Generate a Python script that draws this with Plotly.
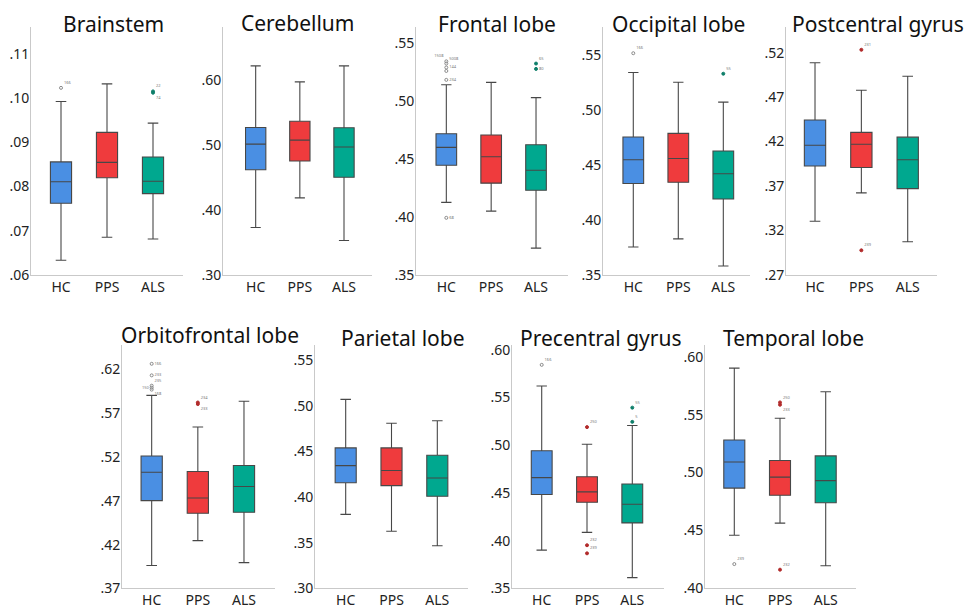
import plotly.graph_objects as go

# ---------------- data ----------------
regions = ["Brainstem", "Cerebellum", "Frontal lobe", "Occipital lobe", "Postcentral gyrus",
           "Orbitofrontal lobe", "Parietal lobe", "Precentral gyrus", "Temporal lobe"]
groups = ["HC", "PPS", "ALS"]

hc_lower = [0.0633, 0.373, 0.4126, 0.3753, 0.3302, 0.3962, 0.381, 0.3901, 0.4459]
hc_q1 = [0.0762, 0.4621, 0.4447, 0.4332, 0.3925, 0.4703, 0.4156, 0.4484, 0.4866]
hc_median = [0.0811, 0.5018, 0.4601, 0.4549, 0.4158, 0.5027, 0.4344, 0.466, 0.5092]
hc_q3 = [0.0856, 0.5275, 0.4719, 0.4757, 0.4442, 0.5212, 0.4538, 0.4942, 0.5281]
hc_upper = [0.0993, 0.6227, 0.5143, 0.5345, 0.5087, 0.5905, 0.5069, 0.562, 0.5902]

pps_lower = [0.0685, 0.4188, 0.405, 0.3827, 0.3622, 0.4246, 0.3626, 0.4087, 0.4564]
pps_q1 = [0.0820, 0.4757, 0.4292, 0.4344, 0.3907, 0.4559, 0.4125, 0.4403, 0.4804]
pps_median = [0.0855, 0.5079, 0.452, 0.4561, 0.4169, 0.4733, 0.4291, 0.4511, 0.4961]
pps_q3 = [0.0923, 0.5371, 0.4708, 0.479, 0.4303, 0.5035, 0.4538, 0.467, 0.5105]
pps_upper = [0.1033, 0.598, 0.5163, 0.5256, 0.4777, 0.5544, 0.4807, 0.501, 0.5469]

als_lower = [0.0681, 0.3529, 0.373, 0.3579, 0.3072, 0.3995, 0.3467, 0.3613, 0.4196]
als_q1 = [0.0784, 0.4505, 0.423, 0.4191, 0.367, 0.457, 0.4008, 0.4186, 0.474]
als_median = [0.0812, 0.4973, 0.4404, 0.4421, 0.3994, 0.4865, 0.4209, 0.4382, 0.4931]
als_q3 = [0.0867, 0.527, 0.4624, 0.4629, 0.4249, 0.5105, 0.4457, 0.4593, 0.5144]
als_upper = [0.0944, 0.6227, 0.5031, 0.5075, 0.4934, 0.5839, 0.4835, 0.5206, 0.5698]

# outliers per region: values and case labels
hc_out = [[0.1024], [], [0.5345, 0.5326, 0.5292, 0.5262, 0.5185, 0.3992], [0.5521], [],
          [0.6266, 0.6134, 0.6016, 0.5993, 0.5971], [], [0.5841], [0.421]]
hc_out_lbl = [["166"], [], ["1508", "5008", "144", "", "234", "68"], ["166"], [],
              ["166", "233", "235", "150", "168"], [], ["166"], ["239"]]
pps_out = [[], [], [], [], [0.5233, 0.2975], [0.5824, 0.5806], [], [0.5189, 0.3952, 0.3867],
           [0.5606, 0.5586, 0.4162]]
pps_out_lbl = [[], [], [], [], ["231", "239"], ["234", "233"], [], ["250", "232", "239"],
               ["250", "233", "232"]]
als_out = [[0.1016, 0.1013], [], [0.5326, 0.528], [0.5334], [], [], [], [0.5393, 0.5244], []]
als_out_lbl = [["22", "74"], [], ["65", "80"], ["55"], [], [], [], ["55", "5"], []]

tick_vals = [
    [0.06, 0.07, 0.08, 0.09, 0.10, 0.11],
    [0.30, 0.40, 0.50, 0.60],
    [0.35, 0.40, 0.45, 0.50, 0.55],
    [0.35, 0.40, 0.45, 0.50, 0.55],
    [0.27, 0.32, 0.37, 0.42, 0.47, 0.52],
    [0.37, 0.42, 0.47, 0.52, 0.57, 0.62],
    [0.30, 0.35, 0.40, 0.45, 0.50, 0.55],
    [0.35, 0.40, 0.45, 0.50, 0.55, 0.60],
    [0.40, 0.45, 0.50, 0.55, 0.60],
]

# ---------------- layout geometry (pixels) ----------------
W, H = 979, 615
# left, right, top, bottom of each plot area
boxes_px = [
    (31, 183, 23, 276), (223, 372, 23, 276), (416, 568, 23, 276), (603, 750, 23, 276),
    (786, 937, 23, 276),
    (122, 275, 348, 597), (315, 468, 348, 597), (512, 664, 348, 597), (705, 856, 348, 597),
]
y_ranges = [
    (0.060, 0.1161), (0.30, 0.682), (0.35, 0.5638), (0.35, 0.5756), (0.27, 0.5484),
    (0.37, 0.648), (0.30, 0.5663), (0.35, 0.6048), (0.40, 0.6101),
]
x_ranges = [
    (-0.652, 2.652), (-0.74, 2.634), (-0.676, 2.713), (-0.673, 2.593), (-0.626, 2.632),
    (-0.643, 2.672), (-0.67, 2.67), (-0.656, 2.70), (-0.641, 2.663),
]
title_pos = [(113, 19), (297, 18), (497, 19), (678, 19), (878, 19),
             (210, 338), (403, 341), (601, 341), (793, 341)]

# label placement for crowded outlier clusters (group -> region index -> positions)
label_pos = {
    "HC": {
        2: ["top left", "top right", "middle right", "middle left", "middle right", "middle right"],
        5: ["middle right", "middle right", "top right", "middle left", "bottom right"],
    },
    "PPS": {
        5: ["top right", "bottom right"],
        8: ["top right", "bottom right", "top right"],
    },
    "ALS": {
        0: ["top right", "bottom right"],
        2: ["top right", "middle right"],
    },
}

colors = {"HC": "#4A8FE3", "PPS": "#EF3B3D", "ALS": "#00A88F"}
out_colors = {"HC": "#8a8a8a", "PPS": "#B22B2B", "ALS": "#0F7F6A"}

stats = {
    "HC": (hc_lower, hc_q1, hc_median, hc_q3, hc_upper, hc_out, hc_out_lbl),
    "PPS": (pps_lower, pps_q1, pps_median, pps_q3, pps_upper, pps_out, pps_out_lbl),
    "ALS": (als_lower, als_q1, als_median, als_q3, als_upper, als_out, als_out_lbl),
}

font_family = "Noto Sans"
fig = go.Figure()
layout = dict(
    width=W, height=H, margin=dict(l=0, r=0, t=0, b=0),
    paper_bgcolor="white", plot_bgcolor="white", showlegend=False,
    boxmode="overlay", font=dict(family=font_family, color="#222"),
)
annotations = []

for i, region in enumerate(regions):
    n = "" if i == 0 else str(i + 1)
    xa, ya = "x" + n, "y" + n
    for g in groups:
        lo, q1, md, q3, up, outs, lbls = stats[g]
        fig.add_trace(go.Box(
            x=[g], q1=[q1[i]], median=[md[i]], q3=[q3[i]],
            lowerfence=[lo[i]], upperfence=[up[i]],
            fillcolor=colors[g], line=dict(color="#474747", width=1.1),
            width=0.46, whiskerwidth=0.5, boxpoints=False,
            xaxis=xa, yaxis=ya, showlegend=False, hoverinfo="y",
        ))
        if outs[i]:
            hollow = g == "HC"
            tpos = label_pos[g].get(i, "top right")
            fig.add_trace(go.Scatter(
                x=[g] * len(outs[i]), y=outs[i], mode="markers+text",
                text=lbls[i], textposition=tpos,
                textfont=dict(size=4, color="#777"),
                marker=dict(size=3,
                            symbol="circle-open" if hollow else "circle",
                            color=out_colors[g], line=dict(width=1, color=out_colors[g])),
                xaxis=xa, yaxis=ya, showlegend=False, cliponaxis=False,
            ))
    l, r, t, b = boxes_px[i]
    layout["xaxis" + n] = dict(
        domain=[l / W, r / W], anchor=ya, type="category", categoryorder="array",
        categoryarray=groups, range=list(x_ranges[i]), showline=True, linecolor="#c9c9c9",
        linewidth=1, showgrid=False, zeroline=False, ticks="", fixedrange=True,
        tickfont=dict(size=14, family=font_family, color="#222"),
        ticklabelstandoff=-1,
    )
    layout["yaxis" + n] = dict(
        domain=[1 - b / H, 1 - t / H], anchor=xa, range=list(y_ranges[i]),
        showline=True, linecolor="#c9c9c9", linewidth=1, showgrid=False, zeroline=False,
        ticks="", tickvals=tick_vals[i],
        ticktext=["." + f"{v:.2f}".split(".")[1] for v in tick_vals[i]],
        tickfont=dict(size=14, family=font_family, color="#222"),
        ticklabelstandoff=-2,
    )
    tx, ty = title_pos[i]
    annotations.append(dict(
        text=region, x=tx / W, y=1 - ty / H, xref="paper", yref="paper",
        xanchor="center", yanchor="middle", showarrow=False,
        font=dict(size=21, family=font_family, color="#111"),
    ))

layout["annotations"] = annotations
fig.update_layout(**layout)
fig.write_html("out.html", config={"displayModeBar": False},
               post_script="document.body.style.margin='0';document.body.style.padding='0';")
